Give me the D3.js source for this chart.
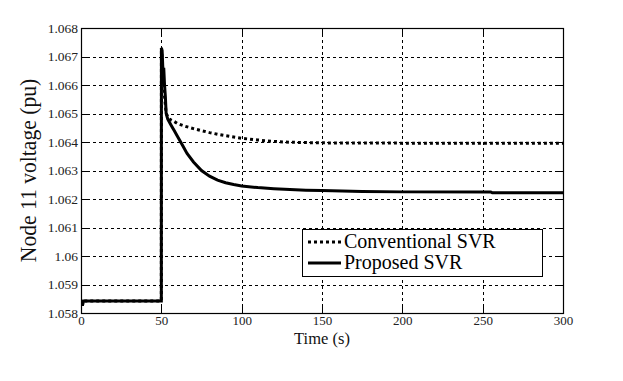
<!DOCTYPE html>
<html><head><meta charset="utf-8">
<script src="https://cdn.jsdelivr.net/npm/d3@7"></script>
<style>body{margin:0;background:#fff}svg{display:block}
text{font-family:"Liberation Serif","Times New Roman",Times,"DejaVu Serif",serif}</style>
</head><body>
<svg id="c" width="623" height="381"></svg>
<script>
const xTicks = [0, 50, 100, 150, 200, 250, 300];
const yTicks = [1.058, 1.059, 1.06, 1.061, 1.062, 1.063, 1.064, 1.065, 1.066, 1.067, 1.068];
const yTickLabels = ["1.058","1.059","1.06","1.061","1.062","1.063","1.064","1.065","1.066","1.067","1.068"];

const convT = [0, 1, 1.5, 50, 50.05, 50.5, 51, 52, 53, 55, 58, 60, 65, 70, 75, 80, 85, 90, 100, 110, 120, 130, 150, 200, 300];
const convV = [1.0583, 1.0583, 1.05842, 1.05842, 1.0673, 1.0669, 1.0664, 1.0656, 1.0650, 1.0648, 1.06472, 1.06465, 1.06455, 1.06447, 1.0644, 1.06433, 1.06427, 1.06422, 1.06413, 1.06407, 1.06402, 1.06399, 1.06397, 1.06396, 1.06396];

const propT = [0, 1, 1.5, 50, 50.05, 50.5, 51, 51.5, 52, 52.5, 53, 54, 56, 58, 60, 63, 66, 70, 75, 80, 85, 90, 95, 100, 110, 120, 130, 140, 150, 175, 200, 255, 256, 300];
const propV = [1.0583, 1.0583, 1.05842, 1.05842, 1.0673, 1.0672, 1.0665, 1.0666, 1.0660, 1.0656, 1.0650, 1.0648, 1.0646, 1.0644, 1.0642, 1.0639, 1.0636, 1.0633, 1.0630, 1.0628, 1.06266, 1.06257, 1.06251, 1.06246, 1.0624, 1.06236, 1.06233, 1.06231, 1.0623, 1.06226, 1.06225, 1.06225, 1.06222, 1.06222];

const seriesNames = ["Conventional SVR", "Proposed SVR"];

const svg = d3.select("#c");
const L = 81, R = 563, T = 28, B = 313;
const x = d3.scaleLinear().domain([0, 300]).range([L, R]);
const y = d3.scaleLinear().domain([1.058, 1.068]).range([B, T]);
const font = '"Liberation Serif","Times New Roman",Times,"DejaVu Serif",serif';
const py = d => Math.round(y(d)) + 0.5;
const px = d => Math.round(x(d)) + 0.5;

// grid
const g = svg.append("g");
g.selectAll("line.gx").data(xTicks.slice(1, -1)).enter().append("line")
  .attr("x1", px).attr("x2", px).attr("y1", T).attr("y2", B)
  .attr("stroke", "#000").attr("stroke-width", 1).attr("stroke-dasharray", "3,3");
g.selectAll("line.gy").data(yTicks.slice(1, -1)).enter().append("line")
  .attr("y1", py).attr("y2", py).attr("x1", L).attr("x2", R)
  .attr("stroke", "#000").attr("stroke-width", 1).attr("stroke-dasharray", "3,3");

// axes
const xAxis = d3.axisBottom(x).tickValues(xTicks).tickSize(0).tickPadding(3).tickFormat(d3.format("d"));
const yAxis = d3.axisLeft(y).tickValues(yTicks).tickSize(0).tickPadding(3).tickFormat((d, i) => yTickLabels[i]);
const ax = svg.append("g").attr("transform", `translate(0,${B})`).call(xAxis);
const ay = svg.append("g").attr("transform", `translate(${L},0)`).call(yAxis);
[ax, ay].forEach(a => {
  a.attr("font-family", font);
  a.select(".domain").remove();
  a.selectAll("text").style("font-family", font).attr("fill", "#222");
});
ax.selectAll("text").attr("font-size", 13);
ay.selectAll("text").attr("font-size", 13.5);
// inner ticks
const tk = svg.append("g").attr("stroke", "#000");
yTicks.forEach(d => {
  tk.append("line").attr("x1", R - 7).attr("x2", R).attr("y1", py(d)).attr("y2", py(d));
  tk.append("line").attr("x1", L).attr("x2", L + 7).attr("y1", py(d)).attr("y2", py(d));
});
xTicks.forEach(d => {
  tk.append("line").attr("y1", B - 7).attr("y2", B).attr("x1", px(d)).attr("x2", px(d));
  tk.append("line").attr("y1", T).attr("y2", T + 7).attr("x1", px(d)).attr("x2", px(d));
});

// lines
const line = d3.line().x(d => x(d[0])).y(d => y(d[1]));
const conv = convT.map((t, i) => [t, convV[i]]);
const prop = propT.map((t, i) => [t, propV[i]]);
svg.append("path").datum(conv).attr("d", line).attr("fill", "none")
  .attr("stroke", "#000").attr("stroke-width", 3).attr("stroke-dasharray", "3,3");
svg.append("path").datum(prop).attr("d", line).attr("fill", "none")
  .attr("stroke", "#000").attr("stroke-width", 3);

// frame
svg.append("rect").attr("x", L + 0.5).attr("y", T + 0.5).attr("width", R - L).attr("height", B - T)
  .attr("fill", "none").attr("stroke", "#000").attr("stroke-width", 1.2);

// labels
svg.append("text").attr("x", 322).attr("y", 344).attr("text-anchor", "middle")
  .style("font-family", font).attr("font-size", 16.5).attr("fill", "#111").text("Time (s)");
svg.append("text").attr("transform", `translate(36,${(T + B) / 2}) scale(1,0.92) rotate(-90)`).attr("text-anchor", "middle")
  .style("font-family", font).attr("font-size", 23.5).attr("fill", "#111").text("Node 11 voltage (pu)");

// legend
const lg = svg.append("g");
lg.append("rect").attr("x", 302.5).attr("y", 229.5).attr("width", 240).attr("height", 47)
  .attr("fill", "#fff").attr("stroke", "#000").attr("stroke-width", 1);
const legY = [242, 263];
seriesNames.forEach((n, i) => {
  lg.append("line").attr("x1", 308).attr("x2", 341).attr("y1", legY[i]).attr("y2", legY[i])
    .attr("stroke", "#000").attr("stroke-width", 3).attr("stroke-dasharray", i === 0 ? "3,3" : null);
  lg.append("text").attr("x", 344).attr("y", legY[i] + 6).style("font-family", font).attr("font-size", 20)
    .attr("fill", "#000").text(n);
});
</script>
</body></html>
